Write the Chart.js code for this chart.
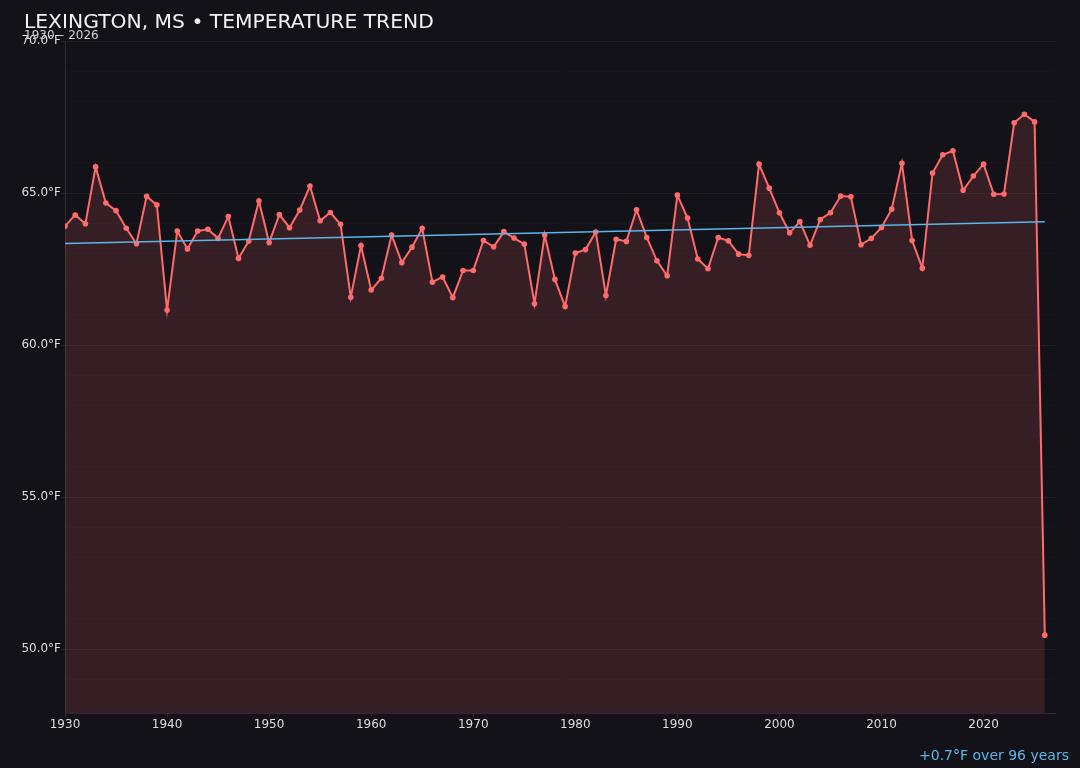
<!DOCTYPE html>
<html>
<head>
<meta charset="utf-8">
<script src="https://cdn.jsdelivr.net/npm/chart.js@4"></script>
<style>
  html, body { margin: 0; padding: 0; background: #131218; }
  #wrap { position: relative; width: 1080px; height: 768px; }
  #title { position: absolute; left: 24px; top: 9px; font: 20.3px "DejaVu Sans", sans-serif; color: #f2f2f2; }
  #sub { position: absolute; left: 24px; top: 28px; font: 12px "DejaVu Sans", sans-serif; color: #d0d0d0; }
  #note { position: absolute; right: 11px; top: 747px; font: 14px "DejaVu Sans", sans-serif; color: #5cb6ea; }
</style>
</head>
<body>
<div id="wrap">
  <canvas id="chart" width="1080" height="768"></canvas>
  <div id="title">LEXINGTON, MS • TEMPERATURE TREND</div>
  <div id="sub">1930 – 2026</div>
  <div id="note">+0.7°F over 96 years</div>
</div>
<script>
// annual mean temperature, °F
const firstYear = 1930;
const temps = [
  63.91, 64.28, 63.99, 65.86, 64.67, 64.42, 63.84, 63.33, 64.89, 64.61,
  61.15, 63.75, 63.16, 63.75, 63.81, 63.51, 64.23, 62.85, 63.42, 64.74,
  63.37, 64.29, 63.86, 64.44, 65.23, 64.09, 64.36, 63.97, 61.57, 63.27,
  61.81, 62.20, 63.62, 62.71, 63.22, 63.84, 62.07, 62.24, 61.56, 62.45,
  62.45, 63.44, 63.23, 63.73, 63.52, 63.32, 61.36, 63.62, 62.16, 61.27,
  63.03, 63.14, 63.72, 61.63, 63.48, 63.41, 64.45, 63.54, 62.77, 62.28,
  64.93, 64.18, 62.83, 62.51, 63.54, 63.43, 62.99, 62.95, 65.95, 65.16,
  64.35, 63.69, 64.06, 63.28, 64.13, 64.35, 64.90, 64.88, 63.30, 63.51,
  63.87, 64.47, 65.98, 63.44, 62.53, 65.66, 66.26, 66.39, 65.09, 65.56,
  65.95, 64.96, 64.97, 67.31, 67.59, 67.34, 50.46
];
const years = temps.map((t, i) => firstYear + i);
const xTicks = [1930, 1940, 1950, 1960, 1970, 1980, 1990, 2000, 2010, 2020];
const yLabels = [50, 55, 60, 65, 70];

// least squares trend
const n = years.length;
const mx = years.reduce((a, b) => a + b, 0) / n;
const my = temps.reduce((a, b) => a + b, 0) / n;
let sxy = 0, sxx = 0;
years.forEach((x, i) => { sxy += (x - mx) * (temps[i] - my); sxx += (x - mx) * (x - mx); });
const slope = sxy / sxx;
const trendAt = x => my + slope * (x - mx);

const pts = years.map((x, i) => ({ x: x, y: temps[i] }));
const trendPts = [{ x: years[0], y: trendAt(years[0]) }, { x: years[n - 1], y: trendAt(years[n - 1]) }];

const ctx = document.getElementById("chart").getContext("2d");
new Chart(ctx, {
  type: "line",
  data: {
    datasets: [
      {
        data: trendPts,
        borderColor: "#5cb6ea",
        borderWidth: 1.5,
        pointRadius: 0,
        fill: false
      },
      {
        data: pts,
        borderColor: "#ff6b6b",
        backgroundColor: "rgba(255,107,107,0.15)",
        borderWidth: 2,
        pointRadius: 2.8,
        pointBackgroundColor: "#ff6b6b",
        pointBorderWidth: 0,
        tension: 0,
        fill: "start"
      }
    ]
  },
  options: {
    responsive: false,
    animation: false,
    layout: { padding: { top: 41, right: 25, left: 0, bottom: 0 } },
    plugins: { legend: { display: false }, tooltip: { enabled: false } },
    scales: {
      x: {
        type: "linear",
        min: 1930,
        max: 2027,
        afterFit: s => { s.height = 55; },
        afterBuildTicks: s => { s.ticks = xTicks.map(v => ({ value: v })); },
        ticks: {
          color: "#dedede",
          font: { family: "DejaVu Sans", size: 12 },
          padding: 1,
          maxRotation: 0,
          callback: v => String(v)
        },
        grid: { drawOnChartArea: false, tickLength: 4, tickColor: "#2c2b33" },
        border: { color: "#2c2b33" }
      },
      y: {
        min: 47.9,
        max: 70,
        afterFit: s => { s.width = 65; },
        ticks: {
          stepSize: 1,
          autoSkip: false,
          color: "#dedede",
          font: { family: "DejaVu Sans", size: 12 },
          padding: 0,
          callback: v => yLabels.includes(v) ? v.toFixed(1) + "°F" : ""
        },
        grid: {
          color: c => Number.isInteger(c.tick.value) ? (c.tick.value % 5 === 0 ? "rgba(255,255,255,0.05)" : "rgba(255,255,255,0.015)") : "rgba(0,0,0,0)",
          tickLength: 4,
          tickColor: c => yLabels.includes(c.tick.value) ? "#2c2b33" : "rgba(0,0,0,0)"
        },
        border: { color: "#2c2b33" }
      }
    }
  }
});
</script>
</body>
</html>
